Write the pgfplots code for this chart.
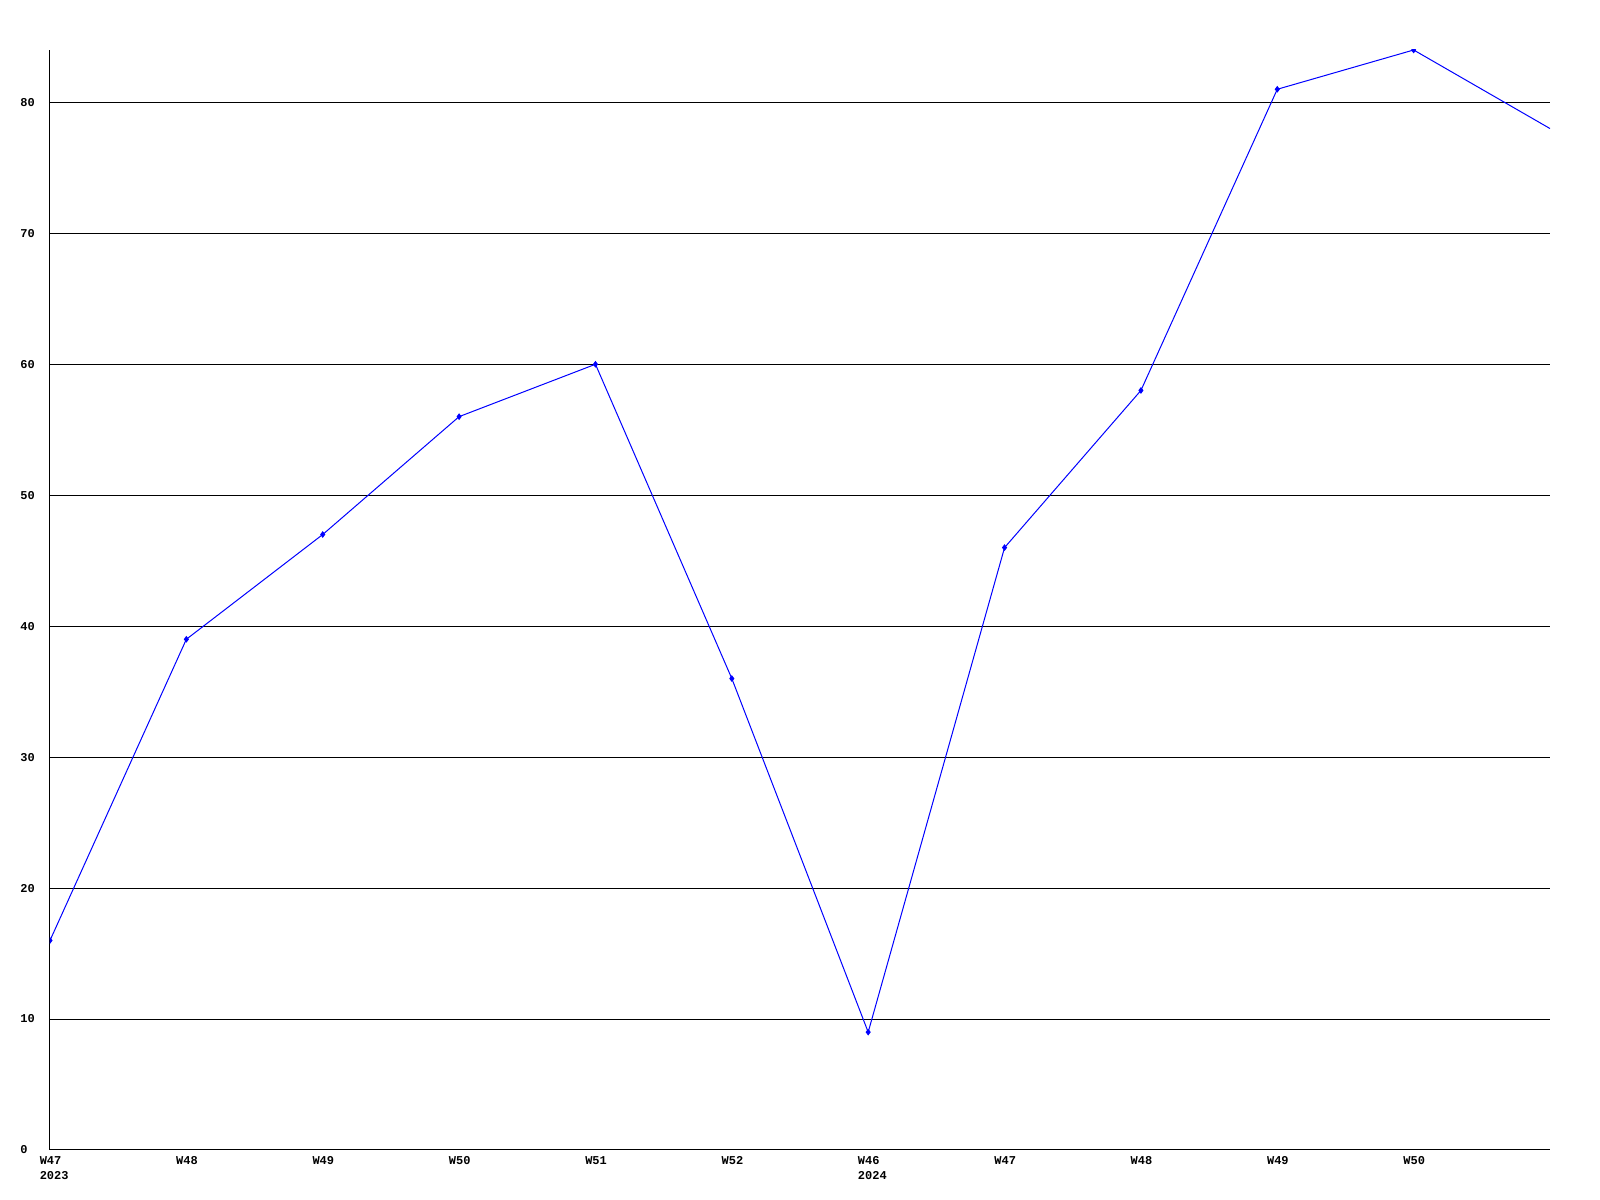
\documentclass[border=0pt]{standalone}
\usepackage{fontspec}
\setmainfont{Liberation Mono}
\usepackage{pgfplots}
\pgfplotsset{compat=1.18}
\begin{document}
\begin{tikzpicture}
\begin{axis}[
  scale only axis,
  width=750pt, height=550pt,
  xmin=0, xmax=11, ymin=0, ymax=84,
  axis x line*=bottom, axis y line*=left,
  axis line style={black, line width=0.5pt, -},
  xtick={0,1,2,3,4,5,6,7,8,9,10},
  xticklabels={{W47\\2023},W48,W49,W50,W51,W52,{W46\\2024},W47,W48,W49,W50},
  ytick={0,10,20,30,40,50,60,70,80},
  major tick length=0pt,
  ymajorgrids,
  grid style={black, line width=0.5pt},
  /pgf/number format/assume math mode=true,
  tick label style={font=\bfseries\fontsize{6}{7.5}\selectfont},
  xticklabel style={anchor=north west, inner sep=0pt, yshift=-3pt, xshift=-5.3pt, align=left},
  yticklabel style={anchor=west, inner sep=0pt, xshift=-15pt},
  clip marker paths=true,
]
\addplot[color={rgb,255:red,0;green,0;blue,255}, line width=0.5pt, mark=diamond*, mark size=1.3pt, mark indices={1,2,3,4,5,6,7,8,9,10,11}] coordinates {
(0,16) (1,39) (2,47) (3,56) (4,60) (5,36) (6,9) (7,46) (8,58) (9,81) (10,84) (11,78)
};
\end{axis}
\path ([shift={(-25pt,-25pt)}]current axis.south west) rectangle ([shift={(25pt,25pt)}]current axis.north east);
\end{tikzpicture}
\end{document}
